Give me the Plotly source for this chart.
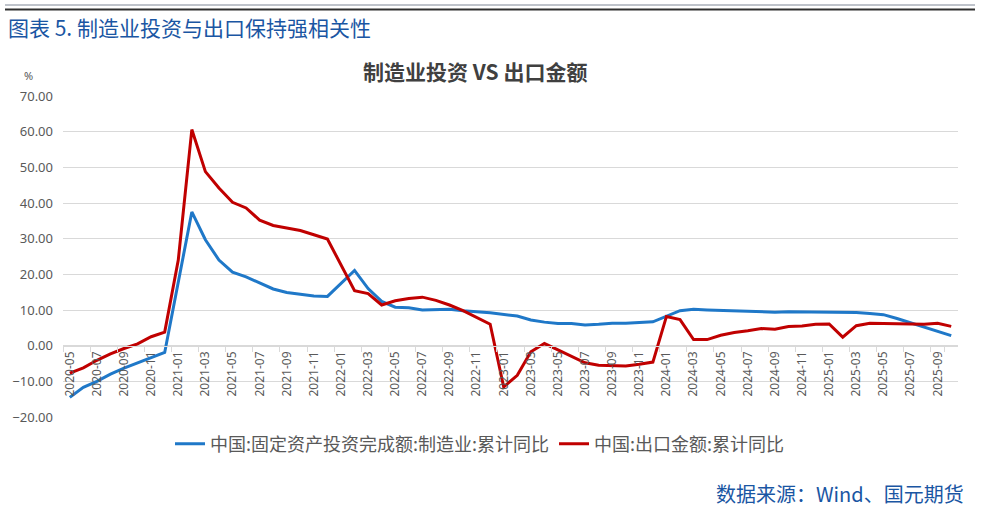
import plotly.graph_objects as go

# ---------------- data ----------------
months = (
    ["2020-%02d" % m for m in range(5, 13)]
    + ["2021-%02d" % m for m in range(1, 13)]
    + ["2022-%02d" % m for m in range(1, 13)]
    + ["2023-%02d" % m for m in range(1, 13)]
    + ["2024-%02d" % m for m in range(1, 13)]
    + ["2025-%02d" % m for m in range(1, 11)]
)

# 中国:固定资产投资完成额:制造业:累计同比 (None = month not published)
mfg_invest = [
    -14.5, -11.7, -10.0, -8.0, -6.3, -4.9, -3.3, -1.9,                 # 2020-05..12
    None, 37.5, 29.7, 24.0, 20.6, 19.3, 17.5, 15.9, 14.9, 14.4, 13.9, 13.8,  # 2021
    None, 21.1, 16.0, 12.4, 10.8, 10.6, 10.0, 10.1, 10.2, 9.8, 9.5, 9.2,     # 2022
    None, 8.3, 7.2, 6.6, 6.2, 6.2, 5.8, 6.0, 6.3, 6.3, 6.4, 6.7,             # 2023
    None, 9.8, 10.2, 10.0, 9.9, 9.8, 9.6, 9.4, 9.4, 9.5, 9.5, 9.4,          # 2024
    None, 9.3, 9.3, 9.0, 8.7, 7.6, 6.4, 5.2, 4.1, 2.8,                      # 2025-01..10
]

# 中国:出口金额:累计同比
export_yoy = [
    -7.7, -6.2, -4.1, -2.3, -0.8, 0.5, 2.5, 3.8,                       # 2020-05..12
    24.0, 60.6, 48.8, 44.2, 40.2, 38.6, 35.2, 33.7, 33.0, 32.3, 31.1, 29.9,  # 2021
    None, 15.4, 14.6, 11.4, 12.6, 13.2, 13.6, 12.7, 11.4, 9.8, 7.8, 6.0,     # 2022
    -11.6, -8.3, -1.7, 0.6, -1.2, -3.0, -4.8, -5.5, -5.6, -5.7, -5.2, -4.6,  # 2023
    8.2, 7.3, 1.7, 1.7, 2.9, 3.7, 4.2, 4.8, 4.6, 5.4, 5.5, 6.0,             # 2024
    6.1, 2.4, 5.6, 6.3, 6.2, 6.1, 6.1, 6.0, 6.3, 5.4,                       # 2025-01..10
]

y_ticks = [-20, -10, 0, 10, 20, 30, 40, 50, 60, 70]
x_tick_labels = months[::2]

series_names = ["中国:固定资产投资完成额:制造业:累计同比", "中国:出口金额:累计同比"]

# ---------------- figure ----------------
W, H = 982, 509
L, R, T, B = 63, 24, 96, 92
PW, PH = W - L - R, H - T - B


def px_x(x):
    return (x - L) / PW


def px_y(y):
    return (H - B - y) / PH


CJK = "Noto Sans CJK SC, Noto Sans, sans-serif"
GREY = "#595959"
GRID = "#d9d9d9"
BLUE_HEAD = "#1a56a3"

fig = go.Figure()
fig.add_trace(go.Scatter(
    x=months, y=mfg_invest, mode="lines", name=series_names[0],
    line=dict(color="#1f78c8", width=3), connectgaps=True,
))
fig.add_trace(go.Scatter(
    x=months, y=export_yoy, mode="lines", name=series_names[1],
    line=dict(color="#c00000", width=3), connectgaps=True,
))

zero_pos = (0 - y_ticks[0]) / (y_ticks[-1] - y_ticks[0])

fig.update_layout(
    width=W, height=H,
    margin=dict(l=L, r=R, t=T, b=B, autoexpand=False),
    paper_bgcolor="white", plot_bgcolor="white",
    font=dict(family=CJK, color=GREY),
    showlegend=True,
    legend=dict(
        orientation="h", x=px_x(480), xanchor="center", y=px_y(444), yanchor="middle",
        font=dict(size=18, color=GREY, family=CJK), itemwidth=30,
        traceorder="normal", bgcolor="rgba(0,0,0,0)",
    ),
    xaxis=dict(
        type="category", categoryorder="array", categoryarray=months,
        range=[-0.5, len(months) - 0.5],
        anchor="free", position=zero_pos,
        showline=True, linecolor=GRID, linewidth=1,
        ticks="outside", ticklen=5, tickcolor=GRID, tickwidth=1,
        tickson="boundaries",
        tickmode="array", tickvals=x_tick_labels, ticktext=x_tick_labels,
        tickangle=-90, tickfont=dict(size=12, color=GREY, family="Noto Sans, sans-serif"),
        showgrid=False, zeroline=False, automargin=False,
    ),
    yaxis=dict(
        range=[y_ticks[0], y_ticks[-1]], tickmode="array", tickvals=y_ticks,
        tickformat=".2f", showgrid=True, gridcolor=GRID, gridwidth=1,
        zeroline=False, showline=False, ticks="",
        ticklabelstandoff=9,
        tickfont=dict(size=13, color=GREY, family="Noto Sans, sans-serif"),
        automargin=False,
    ),
)

annotations = [
    dict(text="图表 5. 制造业投资与出口保持强相关性", x=px_x(6), y=px_y(27),
         xanchor="left", yanchor="middle", showarrow=False,
         font=dict(size=21, color=BLUE_HEAD, family=CJK)),
    dict(text="<b>制造业投资 VS 出口金额</b>", x=px_x(475), y=px_y(71),
         xanchor="center", yanchor="middle", showarrow=False,
         font=dict(size=21, color="#404040", family=CJK)),
    dict(text="%", x=px_x(28), y=px_y(75), xanchor="center", yanchor="middle",
         showarrow=False, font=dict(size=11, color=GREY, family="Noto Sans, sans-serif")),
    dict(text="数据来源：Wind、国元期货", x=px_x(966), y=px_y(493),
         xanchor="right", yanchor="middle", showarrow=False,
         font=dict(size=20, color=BLUE_HEAD, family=CJK)),
]
for a in annotations:
    a.update(xref="paper", yref="paper")
fig.update_layout(annotations=annotations)

fig.update_layout(shapes=[
    dict(type="line", xref="paper", yref="paper", x0=px_x(5), x1=px_x(975),
         y0=px_y(5), y1=px_y(5), line=dict(color="#7f8796", width=1)),
    dict(type="line", xref="paper", yref="paper", x0=px_x(5), x1=px_x(975),
         y0=px_y(9.5), y1=px_y(9.5), line=dict(color="#2e2e2e", width=2)),
])

fig.write_html("out.html")
